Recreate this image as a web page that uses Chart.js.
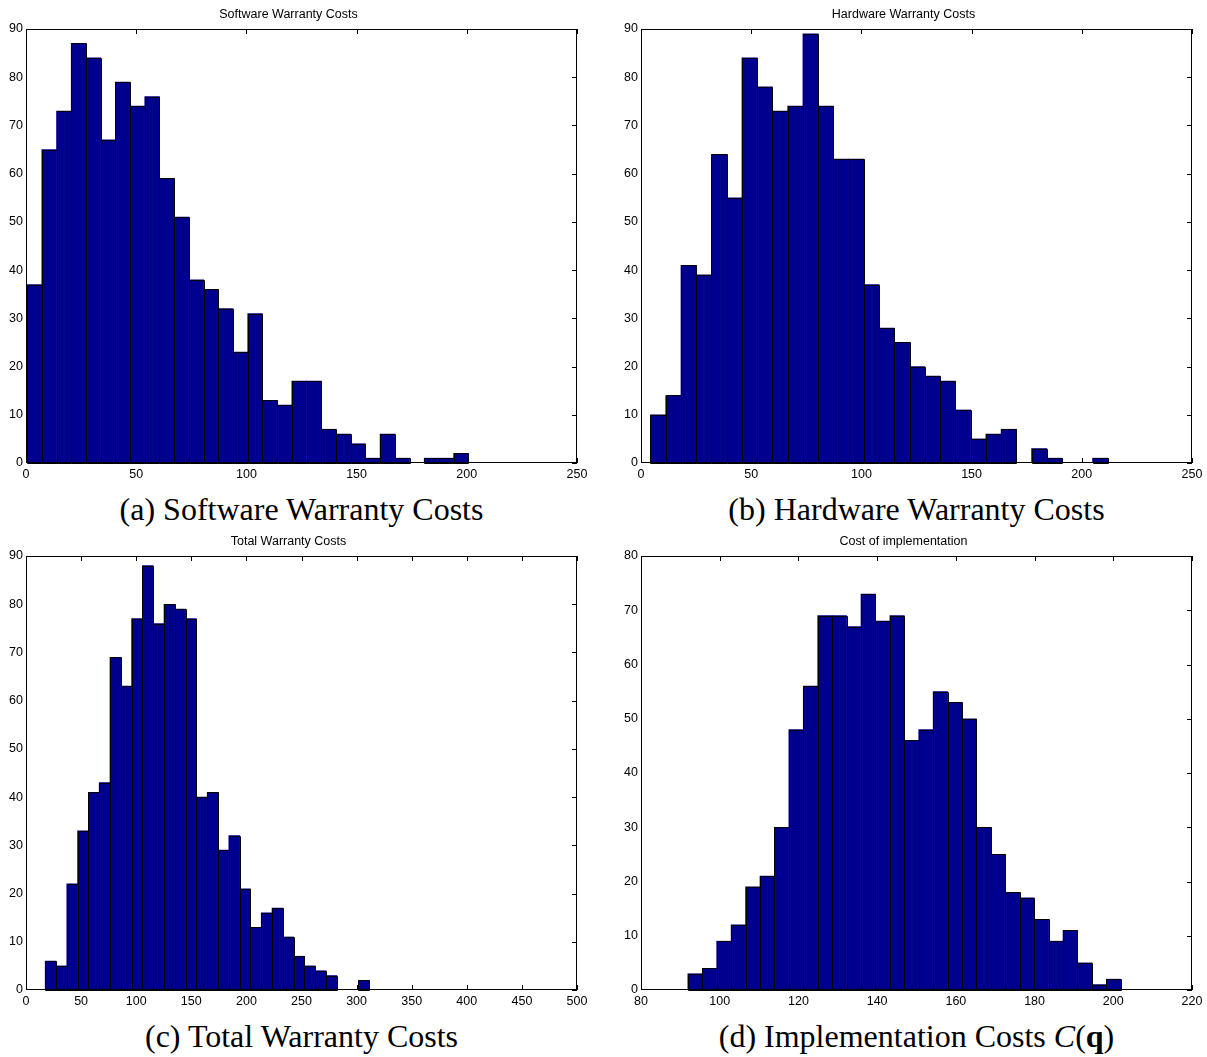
<!DOCTYPE html>
<html lang="en">

<head>
    <meta charset="UTF-8">
    <title>Warranty and Implementation Costs</title>
    <script src="https://cdn.jsdelivr.net/npm/chart.js@4.4.0/dist/chart.umd.min.js"></script>
    <style>
        body { margin: 0; background: #fff; }
        .panel { position: absolute; width: 600px; height: 527px; }
        .panel canvas { position: absolute; left: 0; top: 0; }
        .caption {
            position: absolute; left: 26px; width: 551px; top: 491px;
            font-family: "Liberation Serif", "Times New Roman", serif;
            font-size: 32px; color: #000; text-align: center; white-space: nowrap;
        }
    </style>
</head>

<body>
    <div class="panel" style="left:0;top:0">
        <canvas id="swChart" width="600" height="490"></canvas>
        <div class="caption">(a) Software Warranty Costs</div>
    </div>
    <div class="panel" style="left:615px;top:0">
        <canvas id="hwChart" width="600" height="490"></canvas>
        <div class="caption">(b) Hardware Warranty Costs</div>
    </div>
    <div class="panel" style="left:0;top:527px">
        <canvas id="totalChart" width="600" height="490"></canvas>
        <div class="caption">(c) Total Warranty Costs</div>
    </div>
    <div class="panel" style="left:615px;top:527px">
        <canvas id="implChart" width="600" height="490"></canvas>
        <div class="caption">(d) Implementation Costs <i>C</i>(<b>q</b>)</div>
    </div>

    <script>
        // histogram counts, 30 bins each, plus the data range the bins span
        const swCounts = [37, 65, 73, 87, 84, 67, 79, 74, 76, 59, 51, 38, 36, 32, 23,
            31, 13, 12, 17, 17, 7, 6, 4, 1, 6, 1, 0, 1, 1, 2];
        const swRange = [0.5, 200.7];

        const hwCounts = [10, 14, 41, 39, 64, 55, 84, 78, 73, 74, 89, 74, 63, 63, 37,
            28, 25, 20, 18, 17, 11, 5, 6, 7, 0, 3, 1, 0, 0, 1];
        const hwRange = [4.3, 211.8];

        const totalCounts = [6, 5, 22, 33, 41, 43, 69, 63, 77, 88, 76, 80, 79, 77, 40,
            41, 29, 32, 21, 13, 16, 17, 11, 7, 5, 4, 3, 0, 0, 2];
        const totalRange = [17.4, 311.5];

        const implCounts = [3, 4, 9, 12, 19, 21, 30, 48, 56, 69, 69, 67, 73, 68, 69,
            46, 48, 55, 53, 50, 30, 25, 18, 17, 13, 9, 11, 5, 1, 2];
        const implRange = [91.9, 201.9];

        // axis limits [min, max, step]
        const swXAxis = [0, 250, 50];
        const hwXAxis = [0, 250, 50];
        const totalXAxis = [0, 500, 50];
        const implXAxis = [80, 220, 20];
        const swYMax = 90, hwYMax = 90, totalYMax = 90, implYMax = 80;

        const sans = { family: "'Liberation Sans', Arial, Helvetica, sans-serif", size: 12.5, weight: 'normal' };

        function binCenters(range, n) {
            const w = (range[1] - range[0]) / n;
            const out = [];
            for (let i = 0; i < n; i++) out.push(range[0] + w * (i + 0.5));
            return out;
        }

        // box outline, inward tick marks and pixel-snapped bar edges
        const matlabAxes = {
            id: 'matlabAxes',
            beforeDatasetsDraw(chart) {
                const { ctx, chartArea: a, scales } = chart;
                ctx.save();
                ctx.strokeStyle = '#000';
                ctx.lineWidth = 1;
                ctx.beginPath();
                scales.x.ticks.forEach(t => {
                    const px = Math.round(scales.x.getPixelForValue(t.value)) + 0.5;
                    ctx.moveTo(px, a.bottom); ctx.lineTo(px, a.bottom - 5);
                    ctx.moveTo(px, a.top); ctx.lineTo(px, a.top + 5);
                });
                scales.y.ticks.forEach(t => {
                    const py = Math.round(scales.y.getPixelForValue(t.value)) + 0.5;
                    ctx.moveTo(a.right, py); ctx.lineTo(a.right - 5, py);
                });
                ctx.stroke();
                ctx.restore();
            },
            afterDatasetsDraw(chart) {
                const { ctx, chartArea: a } = chart;
                ctx.save();
                ctx.strokeStyle = '#000';
                ctx.lineWidth = 1;
                ctx.beginPath();
                chart.getDatasetMeta(0).data.forEach(bar => {
                    const p = bar.getProps(['x', 'y', 'base', 'width']);
                    if (Math.abs(p.base - p.y) < 0.5) return;
                    const l = Math.round(p.x - p.width / 2) + 0.5;
                    const r = Math.round(p.x + p.width / 2) + 0.5;
                    const t = Math.round(p.y) + 0.5;
                    const b = Math.round(p.base) + 0.5;
                    ctx.rect(l, t, r - l, b - t);
                });
                ctx.stroke();
                const l = Math.round(a.left) + 0.5, t = Math.round(a.top) + 0.5;
                const r = Math.round(a.right) - 0.5, b = Math.round(a.bottom) - 0.5;
                ctx.strokeRect(l, t, r - l, b - t);
                ctx.restore();
            }
        };

        function histChart(id, title, counts, range, xAxis, yMax) {
            const centers = binCenters(range, counts.length);
            new Chart(document.getElementById(id), {
                type: 'bar',
                data: {
                    datasets: [{
                        data: centers.map((x, i) => ({ x: x, y: counts[i] })),
                        backgroundColor: '#00008f',
                        borderWidth: 0,
                        categoryPercentage: 1,
                        barPercentage: 1
                    }]
                },
                options: {
                    responsive: false,
                    animation: false,
                    layout: { padding: { top: 0, right: 23, bottom: 7, left: 0 } },
                    plugins: {
                        legend: { display: false },
                        tooltip: { enabled: false },
                        title: {
                            display: true, text: title, color: '#000',
                            font: sans, padding: { top: 7, bottom: 7 }
                        }
                    },
                    scales: {
                        x: {
                            type: 'linear', offset: false,
                            min: xAxis[0], max: xAxis[1],
                            grid: { display: false, drawTicks: false },
                            border: { display: false },
                            ticks: { stepSize: xAxis[2], color: '#000', font: sans, padding: 4, maxRotation: 0, autoSkip: false },
                            afterFit: s => { s.height = 20; }
                        },
                        y: {
                            min: 0, max: yMax,
                            grid: { display: false, drawTicks: false },
                            border: { display: false },
                            ticks: { stepSize: 10, color: '#000', font: sans, padding: 3 },
                            afterFit: s => { s.width = 26; }
                        }
                    }
                },
                plugins: [matlabAxes]
            });
        }

        histChart('swChart', 'Software Warranty Costs', swCounts, swRange, swXAxis, swYMax);
        histChart('hwChart', 'Hardware Warranty Costs', hwCounts, hwRange, hwXAxis, hwYMax);
        histChart('totalChart', 'Total Warranty Costs', totalCounts, totalRange, totalXAxis, totalYMax);
        histChart('implChart', 'Cost of implementation', implCounts, implRange, implXAxis, implYMax);
    </script>
</body>

</html>
